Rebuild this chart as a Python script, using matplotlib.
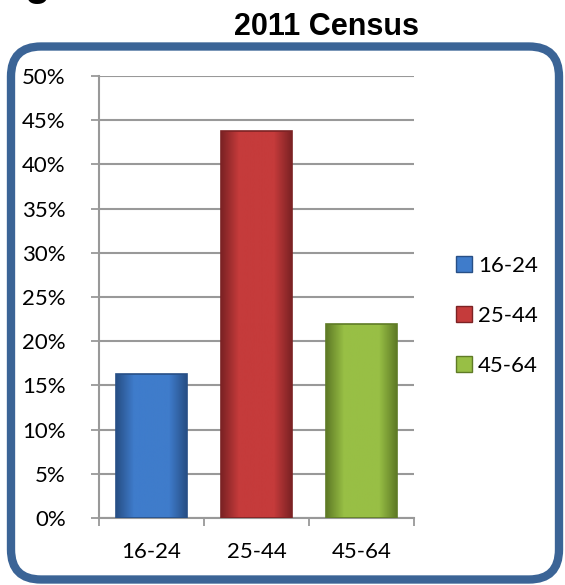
import matplotlib
matplotlib.use("Agg")
import matplotlib.pyplot as plt
import numpy as np
from matplotlib.patches import FancyBboxPatch
from matplotlib.colors import LinearSegmentedColormap

# data
categories = ["16-24", "25-44", "45-64"]
shares = [0.163, 0.438, 0.219]
bar_colors = ["#3f7ccb", "#c53b3b", "#98bf45"]
edge_colors = ["#274f86", "#7c2224", "#5f7b26"]
yticks = [0.0, 0.05, 0.10, 0.15, 0.20, 0.25, 0.30, 0.35, 0.40, 0.45, 0.50]
ytick_labels = ["0%", "5%", "10%", "15%", "20%", "25%", "30%", "35%", "40%", "45%", "50%"]

W, H = 565, 585
fig = plt.figure(figsize=(W / 100, H / 100), dpi=100)
fig.patch.set_facecolor("white")

label_font = "Lato"

# frame + title layer in pixel coordinates
bg = fig.add_axes([0, 0, 1, 1])
bg.set_xlim(0, W)
bg.set_ylim(H, 0)
bg.axis("off")
frame = FancyBboxPatch((11, 46.5), 548, 533, boxstyle="round,pad=0,rounding_size=30",
                       facecolor="white", edgecolor="#3b6496", linewidth=6)
bg.add_patch(frame)
bg.text(326, 35, "2011 Census", fontsize=22, fontweight="bold",
        family="Liberation Sans", ha="center", va="baseline")
# tail of the caption line above, clipped by the image edge
bg.text(24, -5, "g", fontsize=30, fontweight="bold",
        family="Liberation Sans", ha="left", va="baseline")

ax = fig.add_axes([99 / W, 67 / H, 315 / W, 442 / H])
ax.set_facecolor("none")
x = np.arange(len(categories))
bars = ax.bar(x, shares, width=0.676, color=bar_colors, edgecolor=edge_colors,
              linewidth=1.2, zorder=3)

# shade each bar: lighter middle, darker sides
for b, c, e in zip(bars, bar_colors, edge_colors):
    cmap = LinearSegmentedColormap.from_list("bev", [e, c, c, c, e])
    grad = np.linspace(0, 1, 100).reshape(1, -1)
    x0, w = b.get_x(), b.get_width()
    im = ax.imshow(grad, cmap=cmap, extent=[x0, x0 + w, 0, b.get_height()],
                   aspect="auto", zorder=3.5)
    im.set_clip_path(b)
    b.set_facecolor("none")
    b.set_zorder(4)

ax.set_xlim(-0.5, 2.5)
ax.set_ylim(0, 0.5)
ax.set_yticks(yticks)
ax.set_yticklabels(ytick_labels, family=label_font, fontsize=16)
ax.set_xticks(x)
ax.set_xticklabels(categories, family=label_font, fontsize=16)
ax.set_xticks([-0.5, 0.5, 1.5, 2.5], minor=True)
ax.tick_params(axis="x", which="major", length=0, pad=17)
ax.tick_params(axis="x", which="minor", length=6, width=1.3, color="#999999")
ax.tick_params(axis="y", length=6, width=1.3, color="#999999", pad=18)
ax.grid(axis="y", color="#999999", linewidth=1.5, zorder=0)
for s in ["top", "right"]:
    ax.spines[s].set_visible(False)
for s in ["left", "bottom"]:
    ax.spines[s].set_color("#999999")
    ax.spines[s].set_linewidth(1.5)

# legend
handles = [plt.Rectangle((0, 0), 1, 1, facecolor=c, edgecolor=e, linewidth=1)
           for c, e in zip(bar_colors, edge_colors)]
leg = fig.legend(handles, categories, loc="center left",
                 bbox_to_anchor=(456 / W, 1 - 316 / H), frameon=False,
                 prop={"family": label_font, "size": 16},
                 handlelength=0.7, handleheight=0.7, handletextpad=0.3,
                 labelspacing=1.35, borderpad=0, borderaxespad=0)

fig.savefig("out.png", dpi=100, facecolor="white")
